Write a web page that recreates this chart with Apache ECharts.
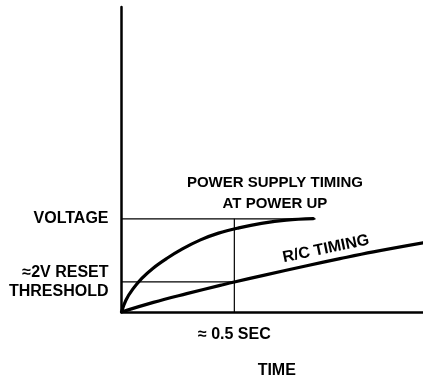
<!DOCTYPE html>
<html>
<head>
<meta charset="utf-8">
<style>
  html, body { margin: 0; padding: 0; background: #fff; }
  #chart { width: 423px; height: 381px; }
</style>
<script src="https://cdn.jsdelivr.net/npm/echarts@6/dist/echarts.min.js"></script>
</head>
<body>
<div id="chart"></div>
<script>
// Time in seconds, supply voltage in volts.
const supplyCurve = [
  [0, 0], [0.02, 0.8], [0.05, 1.52], [0.09, 2.24], [0.14, 2.92],
  [0.2, 3.56], [0.27, 4.2], [0.35, 4.8], [0.43, 5.25], [0.52, 5.6],
  [0.62, 5.9], [0.73, 6.12], [0.85, 6.22]
];
const rcCurve = [
  [0, 0], [0.141, 0.64], [0.289, 1.22], [0.437, 1.77], [0.5, 2.0],
  [0.629, 2.44], [0.821, 3.08], [0.968, 3.55], [1.116, 4.0], [1.336, 4.6]
];
const voltageLevel = 6.2;
const resetThreshold = 2;
const resetTime = 0.5;
const voltageLineEnd = 0.86;
const timeMax = 1.336;
const voltMax = 20.3;

const yLabels = { 2: '\u22482V RESET\nTHRESHOLD', 6.2: 'VOLTAGE' };
const xLabels = { 0.5: '\u2248 0.5 SEC' };

const FONT = 'Liberation Sans';
const chart = echarts.init(document.getElementById('chart'), null, { renderer: 'canvas' });

const thin = { color: '#000', width: 1.2 };
const thick = { color: '#000', width: 3.2, cap: 'round', join: 'round' };

chart.setOption({
  animation: false,
  backgroundColor: '#fff',
  grid: { left: 121.5, right: 0, top: 7, bottom: 69, containLabel: false, outerBoundsMode: 'none' },
  xAxis: {
    type: 'value', min: 0, max: timeMax,
    name: 'TIME', nameLocation: 'middle', nameGap: 51,
    nameTextStyle: { fontFamily: FONT, fontWeight: 'bold', fontSize: 16, color: '#000', padding: [0, 0, 0, 9] },
    axisLine: { lineStyle: { color: '#000', width: 2.5 } },
    axisTick: { show: false },
    splitLine: { show: false },
    axisLabel: {
      customValues: [resetTime], margin: 15,
      formatter: v => xLabels[v] || '',
      fontFamily: FONT, fontWeight: 'bold', fontSize: 16, color: '#000'
    }
  },
  yAxis: {
    type: 'value', min: 0, max: voltMax,
    axisLine: { show: true, lineStyle: { color: '#000', width: 2.5 } },
    axisTick: { show: false },
    splitLine: { show: false },
    axisLabel: {
      customValues: [resetThreshold, voltageLevel], margin: 13,
      formatter: v => yLabels[v] || '',
      fontFamily: FONT, fontWeight: 'bold', fontSize: 16, color: '#000', lineHeight: 19.5
    }
  },
  series: [
    { type: 'line', data: [[0, voltageLevel], [voltageLineEnd, voltageLevel]], symbol: 'none', lineStyle: thin, z: 1 },
    { type: 'line', data: [[0, resetThreshold], [resetTime, resetThreshold]], symbol: 'none', lineStyle: thin, z: 1 },
    { type: 'line', data: [[resetTime, 0], [resetTime, voltageLevel]], symbol: 'none', lineStyle: thin, z: 1 },
    { type: 'line', name: 'supply', data: supplyCurve, symbol: 'none', smooth: 0.4, lineStyle: thick, z: 3 },
    { type: 'line', name: 'rc', data: rcCurve, symbol: 'none', smooth: 0.4, lineStyle: thick, z: 3 }
  ]
});

// Curve captions, anchored in data coordinates.
const supplyAnchor = chart.convertToPixel({ gridIndex: 0 }, [0.68, 7.9]);
const rcAnchor = chart.convertToPixel({ gridIndex: 0 }, [0.906, 4.2]);
const pa = chart.convertToPixel({ gridIndex: 0 }, rcCurve[6]);
const pb = chart.convertToPixel({ gridIndex: 0 }, rcCurve[8]);
const rcAngle = Math.atan2(pa[1] - pb[1], pb[0] - pa[0]);

chart.setOption({
  graphic: [
    {
      type: 'text', x: supplyAnchor[0], y: supplyAnchor[1],
      style: {
        text: 'POWER SUPPLY TIMING\nAT POWER UP', align: 'center', verticalAlign: 'middle',
        font: 'bold 15px "' + FONT + '"', fill: '#000', lineHeight: 21.5
      }
    },
    {
      type: 'text', x: rcAnchor[0], y: rcAnchor[1], rotation: rcAngle,
      style: {
        text: 'R/C TIMING', align: 'center', verticalAlign: 'middle',
        font: 'bold 16px "' + FONT + '"', fill: '#000'
      }
    }
  ]
});
</script>
</body>
</html>
